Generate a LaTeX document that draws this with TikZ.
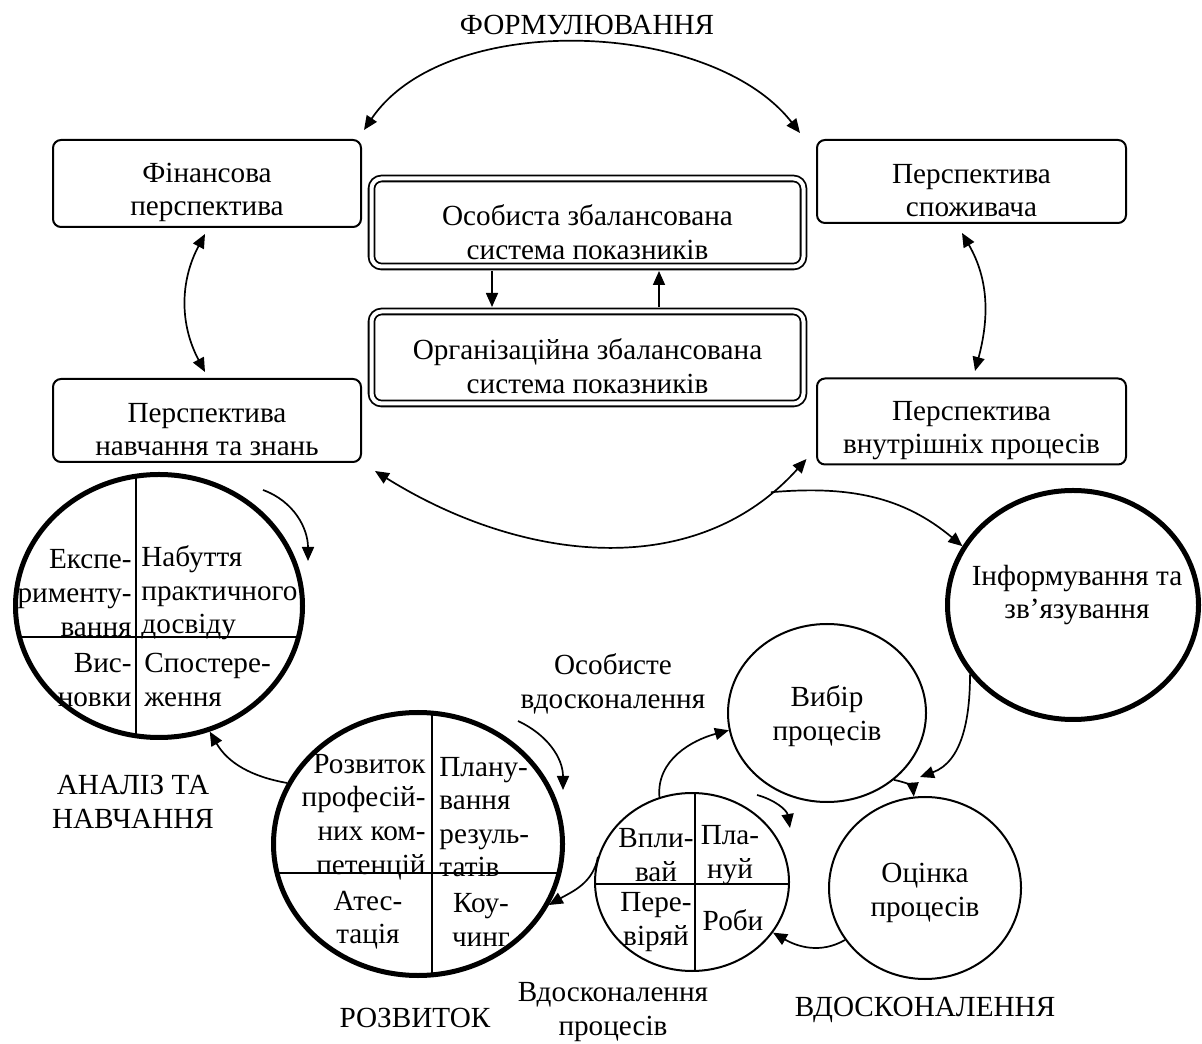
\documentclass[tikz,border=0pt]{standalone}
\usepackage{fontspec}
\setmainfont{Liberation Serif}
\usetikzlibrary{arrows.meta}
\usetikzlibrary{shapes.geometric}

\begin{document}
\begin{tikzpicture}[x=0.5pt,y=0.5pt,
	every node/.style={font=\fontsize{14.6}{16.8}\selectfont},
	persp/.style={draw, rounded corners=4pt, line width=1pt, minimum width=154pt},
	bsc/.style={draw, double, double distance=2pt, line width=0.9pt, rounded corners=5pt, minimum width=216pt},
	ring/.style={draw, ellipse, line width=2.5pt, inner sep=0pt},
	oval/.style={draw, ellipse, line width=1pt, inner sep=0pt},
	txt/.style={align=center, inner sep=0pt},
	arr/.style={-{Triangle[length=7pt,width=6pt]}, line width=0.85pt},
	darr/.style={{Triangle[length=7pt,width=6pt]}-{Triangle[length=7pt,width=6pt]}, line width=0.85pt}]
	\useasboundingbox (0,0) rectangle (1202,1043);

	\node[persp, minimum height=43.5pt] (fin) at (207,859.5){};
	\node[persp, minimum width=154.5pt, minimum height=41.5pt] (cons) at (971.5,861.5){};
	\node[persp, minimum height=41.5pt] (learn) at (207,622.5){};
	\node[persp, minimum width=154.5pt, minimum height=43pt] (intern) at (971.5,621.5){};
	\node[bsc, minimum height=44pt] (pers) at (587.5,820.5){};
	\node[bsc, minimum height=46pt] (org) at (587.5,685.5){};
	\node[txt] (fint) at ([yshift=-4.5pt]fin.center){Фінансова\\перспектива};
	\node[txt] (const) at ([yshift=-4.5pt]cons.center){Перспектива\\споживача};
	\node[txt] (learnt) at ([yshift=-4.5pt]learn.center){Перспектива\\навчання та знань};
	\node[txt] (internt) at ([yshift=-4.5pt]intern.center){Перспектива\\внутрішніх процесів};
	\node[txt] (perst) at ([yshift=-5pt]pers.center){Особиста збалансована\\система показників};
	\node[txt] (orgt) at ([yshift=-4.5pt]org.center){Організаційна збалансована\\система показників};

	\node[ring, minimum width=143.5pt, minimum height=131.5pt] (an) at (159,437){};
	\node[ring, minimum width=144.5pt, minimum height=131.5pt] (dev) at (418,199){};
	\node[oval, minimum width=97pt, minimum height=89pt] (pdca) at (692,161){};
	\node[oval, minimum width=99pt, minimum height=89pt] (vybir) at (827,330){};
	\node[oval, minimum width=96pt, minimum height=91pt] (ocinka) at (925,155){};
	\node[ring, minimum width=125.5pt, minimum height=114.5pt] (info) at (1073,438){};

	\begin{scope}[line width=0.75pt]
		\clip (159,437) ellipse [x radius=143.5, y radius=131.5];
		\draw (136,280) -- (136,600);
		\draw (0,406) -- (320,406);
	\end{scope}
	\begin{scope}[line width=0.75pt]
		\clip (418,199) ellipse [x radius=144.5, y radius=131.5];
		\draw (432,40) -- (432,360);
		\draw (260,170) -- (580,170);
	\end{scope}
	\begin{scope}[line width=0.75pt]
		\clip (692,161) ellipse [x radius=97, y radius=89];
		\draw (695,60) -- (695,260);
		\draw (580,159) -- (800,159);
	\end{scope}

	\begin{scope}[every node/.append style={inner sep=0pt}]
		\node[anchor=east, align=right] (an1) at (132,450){Експе-\\рименту-\\вання};
		\node[anchor=west, align=left] (an2) at (141,450){Набуття\\практичного\\досвіду};
		\node[anchor=east, align=right] (an3) at (132,363){Вис-\\новки};
		\node[anchor=west, align=left] (an4) at (144,363){Спостере-\\ження};
		\node[anchor=east, align=right] (dev1) at (426,226){Розвиток\\професій-\\них ком-\\петенцій};
		\node[anchor=west, align=left] (dev2) at (439,226){Плану-\\вання\\резуль-\\татів};
		\node[txt] (dev3) at (368,123){Атес-\\тація};
		\node[txt] (dev4) at (481,123){Коу-\\чинг};
		\node[txt] (pd1) at (656,188){Впли-\\вай};
		\node[txt] (pd2) at (730,188){Пла-\\нуй};
		\node[txt] (pd3) at (656,121){Пере-\\віряй};
		\node[txt] (pd4) at (733,123){Роби};
	\end{scope}
	\node[txt] (vybirt) at (827,327){Вибір\\процесів};
	\node[txt] (ocinkat) at (925,150){Оцінка\\процесів};
	\node[txt] (infot) at (1077,448){Інформування та\\зв’язування};

	\node[txt] (form) at (587,1018){ФОРМУЛЮВАННЯ};
	\node[txt] (anl) at (133,241){АНАЛІЗ ТА\\НАВЧАННЯ};
	\node[txt] (rozv) at (415,25){РОЗВИТОК};
	\node[txt] (osv) at (613,359){Особисте\\вдосконалення};
	\node[txt] (vpr) at (613,31){Вдосконалення\\процесів};
	\node[txt] (vdo) at (925,33){ВДОСКОНАЛЕННЯ};

	\coordinate (dn) at (492,0);
	\coordinate (up) at (659,0);
	\coordinate (c1) at (263,553);
	\coordinate (c2) at (308,482);
	\coordinate (c3) at (518,322);
	\coordinate (c4) at (563,253);
	\coordinate (c5) at (757,248);
	\coordinate (c6) at (790,215);
	\coordinate (c7) at (920,266);

	\draw[darr] ([shift={(2,9)}]fin.north east) to[out=56,in=128, looseness=0.85] ([shift={(-16,6)}]cons.north west);
	\draw[darr] ([shift={(-2,-6)}]fin.south) to[out=-118,in=118] ([shift={(-2,6)}]learn.north);
	\draw[darr] ([shift={(-9.5,-9)}]cons.south) to[out=-60,in=75] ([shift={(3.5,6.5)}]intern.north);
	\draw[darr] ([shift={(13,-8)}]learn.south east) to[out=-32,in=-132] coordinate[pos=0.9] (br) ([shift={(-9.5,6.5)}]intern.south west);
	\draw[arr] (br) to[out=5,in=140] (info.152);
	\draw[arr, shorten <=1.8pt, shorten >=1.8pt] (pers.south -| dn) -- (org.north -| dn);
	\draw[arr, shorten <=1.8pt, shorten >=1.8pt] (org.north -| up) -- (pers.south -| up);

	\draw[arr] (c1) to[out=-20,in=90] (c2);
	\draw[arr] (dev.155) to[out=170,in=-60] (an.-68);
	\draw[arr] (c3) to[out=-25,in=90] (c4);
	\draw[arr] (pdca.165) to[out=-100,in=30] (dev.-25);
	\draw[arr] (pdca.111) to[out=95,in=195] (vybir.190);
	\draw[arr] (c5) to[out=-15,in=100] (c6);
	\draw[arr] (info.-146) to[out=-90,in=20] (c7);
	\draw[arr] (vybir.-45) to[out=-10,in=95] (ocinka.97);
	\draw[arr] (ocinka.-147) to[out=-150,in=-30] (pdca.-32);
\end{tikzpicture}
\end{document}
